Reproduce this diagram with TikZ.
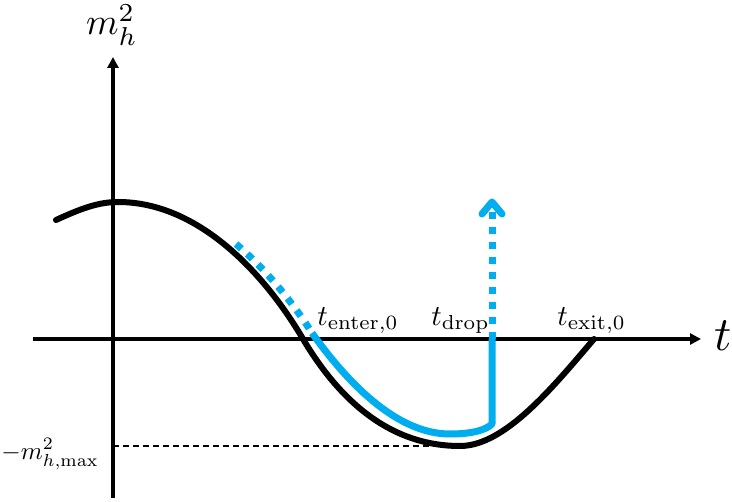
\documentclass[tikz,border=0pt]{standalone}
\usepackage{graphicx}
\usetikzlibrary{arrows.meta}
\definecolor{bluec}{RGB}{0,174,239}
\begin{document}
\begin{tikzpicture}[x=0.5pt,y=-0.5pt,
  axis/.style={line width=1.8pt,-{Triangle[length=5.5pt,width=5.5pt]}},
  curveblack/.style={line width=3pt,black,line cap=round},
  bluesolid/.style={line width=3.5pt,bluec},
  bluedot/.style={line width=3.5pt,bluec,dash pattern=on 3.6pt off 3.9pt},
  lbl/.style={inner sep=0pt},
  guide/.style={line width=1pt,dash pattern=on 3pt off 2pt}]
\useasboundingbox (0,0) rectangle (732,502);
% axes
\coordinate (xs) at (33,339);
\coordinate (xe) at (701,339);
\coordinate (ys) at (113,498);
\coordinate (ye) at (113,57);
\draw[axis] (xs) -- (xe);
\draw[axis] (ys) -- (ye);
% guide
\coordinate (ga) at (113,446);
\coordinate (gb) at (460,446);
\draw[guide] (ga) -- (gb);
% black curve
\coordinate (c0) at (56,220);
\coordinate (c1) at (118,202);
\coordinate (c3) at (303,339);
\coordinate (c4) at (460,446);
\coordinate (c5) at (594,339);
\draw[curveblack] (c0) .. controls (80,209) and (98,202) .. (c1)
  .. controls (200,202) and (266,276) .. (c3)
  .. controls (353,423) and (410,446) .. (c4)
  .. controls (505,446) and (553,387) .. (c5);
% blue dotted part
\coordinate (b0) at (236,244);
\coordinate (b1) at (312,333);
\draw[bluedot] (b0) .. controls (262,266) and (290,298) .. (b1);
% blue solid part
\coordinate (b2) at (450,434);
\coordinate (bd) at (492,424);
\coordinate (bx) at (492,339);
\coordinate (bt) at (492,210);
\draw[bluesolid,line join=round] (b1) .. controls (352,389) and (400,434) .. (b2)
  .. controls (472,434) and (486,430) .. (bd) -- (bx);
\draw[bluedot] (bx) -- (bt);
\coordinate (tipl) at (482,214);
\coordinate (tip) at (492,202);
\coordinate (tipr) at (502,214);
\draw[bluesolid,line cap=round,line join=round] (tipl) -- (tip) -- (tipr);
% labels
\node[lbl,anchor=base] (mh) at (112,35) {\scalebox{1.85}{$m_h^2$}};
\node[lbl,anchor=base west] (t) at (714,350) {\scalebox{2.4}{$t$}};
\node[lbl,anchor=base west] (ten) at (317,325) {\scalebox{1.45}{$t_{\mathrm{enter},0}$}};
\node[lbl,anchor=base west] (tdr) at (431,325) {\scalebox{1.45}{$t_{\mathrm{drop}}$}};
\node[lbl,anchor=base west] (tex) at (557,325) {\scalebox{1.45}{$t_{\mathrm{exit},0}$}};
\node[lbl,anchor=base east] (mmax) at (99,459) {\scalebox{1.25}{$-m^2_{h,\max}$}};
\end{tikzpicture}
\end{document}
